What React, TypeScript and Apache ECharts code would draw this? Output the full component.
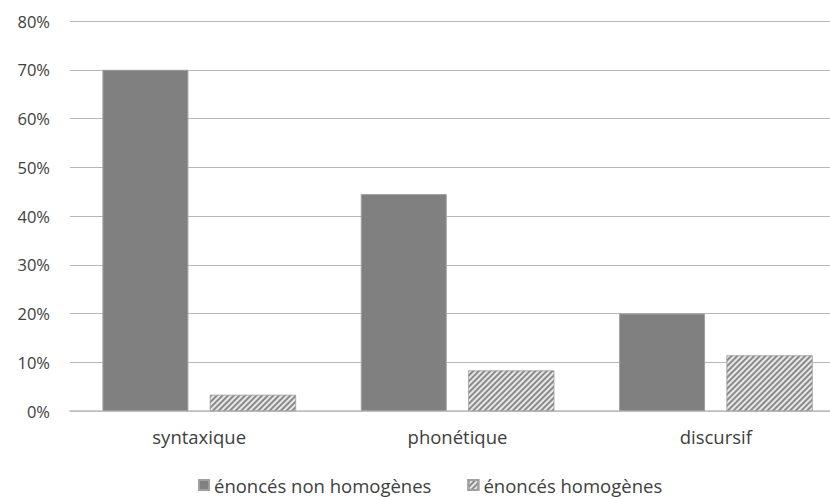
import React, { useEffect, useRef } from "react";
import * as echarts from "echarts";

const categories = ["syntaxique", "phonétique", "discursif"];
const nonHomogenes = [70, 44.5, 20];
const homogenes = [3.3, 8.3, 11.4];
const seriesNames = ["énoncés non homogènes", "énoncés homogènes"];

export default function App() {
  const ref = useRef<HTMLDivElement>(null);
  useEffect(() => {
    document.body.style.margin = "0";
    const chart = echarts.init(ref.current!, null, { renderer: "svg" });
    const font = "'Open Sans', sans-serif";
    chart.setOption({
      animation: false,
      backgroundColor: "#ffffff",
      grid: { left: 70, top: 21, width: 775, height: 390, containLabel: false },
      legend: {
        top: 475,
        left: 198,
        padding: 0,
        itemWidth: 10,
        itemHeight: 10,
        itemGap: 36,
        icon: "rect",
        textStyle: { color: "#404040", fontSize: 18.5, lineHeight: 20, fontFamily: font },
        data: seriesNames,
      },
      xAxis: {
        type: "category",
        data: categories,
        axisLine: { lineStyle: { color: "#bfbfbf", width: 1.5 } },
        axisTick: { show: false },
        axisLabel: { color: "#404040", fontSize: 18.5, fontFamily: font, margin: 16 },
      },
      yAxis: {
        type: "value",
        min: 0,
        max: 80,
        interval: 10,
        axisLine: { show: false },
        axisTick: { show: false },
        splitLine: { lineStyle: { color: "#b8b8b8", width: 1.2 } },
        axisLabel: {
          color: "#404040",
          fontSize: 16.5,
          fontFamily: font,
          margin: 20,
          formatter: "{value}%",
        },
      },
      series: [
        {
          name: seriesNames[0],
          type: "bar",
          data: nonHomogenes,
          barWidth: 86,
          barGap: "25%",
          itemStyle: { color: "#808080", borderColor: "#a0a0a0", borderWidth: 1 },
        },
        {
          name: seriesNames[1],
          type: "bar",
          data: homogenes,
          barWidth: 86,
          barGap: "25%",
          itemStyle: {
            color: "#e8e8e8",
            borderColor: "#a0a0a0",
            borderWidth: 0.5,
            decal: {
              symbol: "rect",
              symbolSize: 1,
              color: "#8a8a8a",
              dashArrayX: [1, 0],
              dashArrayY: [1.2, 1.3],
              rotation: -Math.PI / 4,
            },
          },
        },
      ],
    });
    return () => chart.dispose();
  }, []);
  return (
    <div style={{ width: 830, height: 497, overflow: "hidden", position: "relative" }}>
      <div ref={ref} style={{ width: 846, height: 497 }} />
    </div>
  );
}
